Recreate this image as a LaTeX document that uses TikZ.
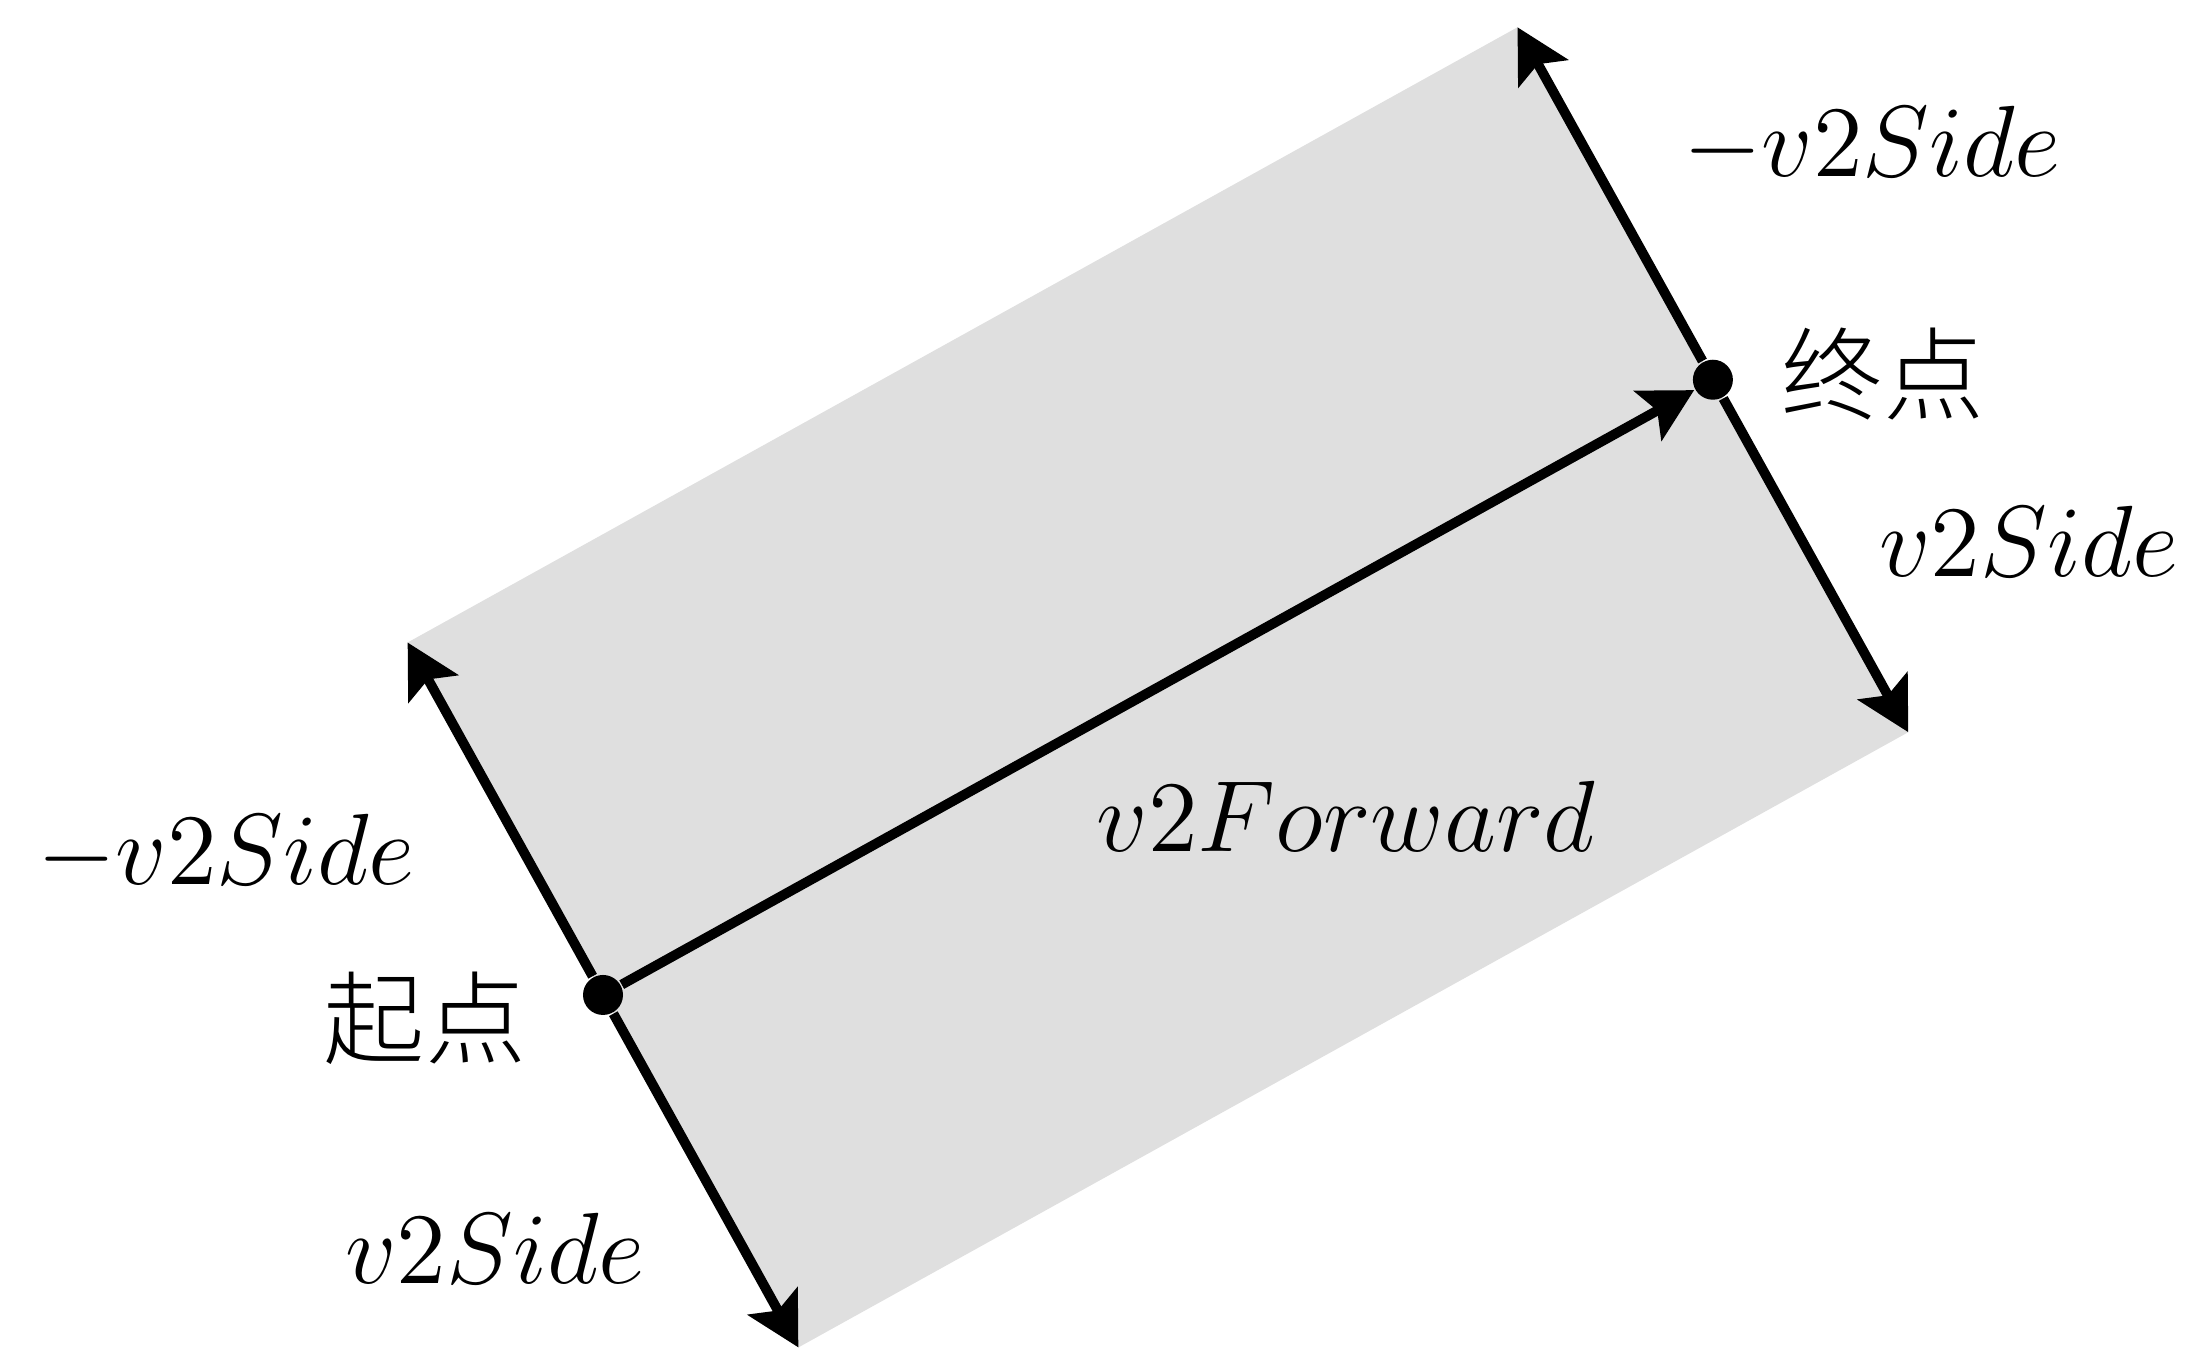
\documentclass[tikz,border=0pt]{standalone}
\usepackage{fontspec}
\newfontfamily\cjk{Noto Sans CJK SC Light}
\usetikzlibrary{arrows.meta, positioning, calc}

\begin{document}
\begin{tikzpicture}[
    >={Stealth[length=7.5pt, width=8pt, inset=1.5pt]},
    vec/.style={->, line width=1.4pt},
    endpt/.style={circle, fill, inner sep=0pt, minimum size=2mm},
    lbl/.style={font=\Large},
    cjklbl/.style={font=\Large\cjk},
]
    \useasboundingbox (0,0) rectangle (10.935,6.765);

    % Forward vector and side offsets
    \coordinate (s0) at (3.015,1.79);
    \coordinate (e0) at ($(s0)+(29:6.345)$);
    \coordinate (s-up) at ($(s0)+(119:2.015)$);
    \coordinate (s-dn) at ($(s0)+(-61:2.015)$);
    \coordinate (e-up) at ($(e0)+(119:2.015)$);
    \coordinate (e-dn) at ($(e0)+(-61:2.015)$);

    % Swept area
    \fill[gray!25] (s-up) -- (e-up) -- (e-dn) -- (s-dn) -- cycle;

    \node[endpt] (start) at (s0) {};
    \node[endpt] (end) at (e0) {};

    \draw[vec] (start) -- (end);
    \draw[vec] (start) -- (s-up);
    \draw[vec] (start) -- (s-dn);
    \draw[vec] (end) -- (e-up);
    \draw[vec] (end) -- (e-dn);

    % Labels
    \node[lbl] (fwd-lbl) at (6.73,2.685) {$v2Forward$};
    \node[lbl] (e-up-lbl) at (9.36,6.035) {$-v2Side$};
    \node[lbl] (e-dn-lbl) at (10.145,4.06) {$v2Side$};
    \node[lbl] (s-up-lbl) at (1.13,2.495) {$-v2Side$};
    \node[lbl] (s-dn-lbl) at (2.475,0.525) {$v2Side$};
    \node[cjklbl] (end-lbl) at (9.415,4.895) {终点};
    \node[cjklbl] (start-lbl) at (2.125,1.675) {起点};
\end{tikzpicture}
\end{document}
